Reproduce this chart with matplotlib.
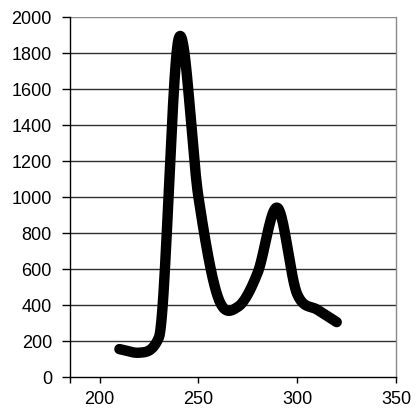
import matplotlib
matplotlib.use('Agg')

import matplotlib.pyplot as plt
import numpy as np

# valores
x_vals = [210, 220, 230, 240, 250, 260, 270, 280, 290, 300, 310, 320]
y_vals = [155, 135, 220, 1880, 1000, 440, 390, 580, 940, 460, 375, 305]

x_ticks = [200, 250, 300, 350]
y_ticks = list(range(0, 2001, 200))


def suavizar(xs, ys, n=40):
    # linha suavizada: tangentes catmull-rom, limitadas so onde ondularia
    xs = np.asarray(xs, float)
    ys = np.asarray(ys, float)
    h = np.diff(xs)
    d = np.diff(ys) / h
    m = np.empty_like(ys)
    m[1:-1] = (ys[2:] - ys[:-2]) / (xs[2:] - xs[:-2])
    m[0] = d[0]
    m[-1] = d[-1]
    for k in range(len(d)):
        if d[k] == 0:
            continue
        a = m[k] / d[k]
        b = m[k + 1] / d[k]
        s = a * a + b * b
        if a > 0 and b > 0 and s > 9:
            tau = 3 / np.sqrt(s)
            m[k] = tau * a * d[k]
            m[k + 1] = tau * b * d[k]
    ox, oy = [], []
    t = np.linspace(0, 1, n)
    h00 = 2 * t**3 - 3 * t**2 + 1
    h10 = t**3 - 2 * t**2 + t
    h01 = -2 * t**3 + 3 * t**2
    h11 = t**3 - t**2
    for i in range(len(xs) - 1):
        ox.extend(xs[i] + t * h[i])
        oy.extend(h00 * ys[i] + h10 * h[i] * m[i] + h01 * ys[i + 1] + h11 * h[i] * m[i + 1])
    return ox, oy


plt.rcParams['font.family'] = ['Liberation Sans', 'DejaVu Sans']

fig = plt.figure(figsize=(4.16, 4.16), dpi=100)
ax = fig.add_axes([70 / 416, 39 / 416, 326 / 416, 360 / 416])

for v in y_ticks[1:]:
    cor = '#8a8a8a' if v == 2000 else '#303030'
    ax.axhline(v, color=cor, lw=1.0, zorder=1)

sx, sy = suavizar(x_vals, y_vals)
ax.plot(sx, sy, color='black', lw=7.5, solid_capstyle='round', solid_joinstyle='round', zorder=3)

ax.set_xlim(185, 350)
ax.set_ylim(0, 2000)
ax.set_xticks(x_ticks)
ax.set_xticks([185], minor=True)
ax.set_yticks(y_ticks)

ax.spines['top'].set_visible(False)
ax.spines['right'].set_color('#8a8a8a')
ax.spines['left'].set_color('black')
ax.spines['bottom'].set_color('black')
for s in ax.spines.values():
    s.set_linewidth(1.0)

ax.tick_params(axis='y', direction='out', length=6, width=1, pad=7, labelsize=13, colors='black')
ax.tick_params(axis='x', which='both', direction='out', length=4, width=1, pad=6, labelsize=13, colors='black')
ax.tick_params(axis='x', which='minor', length=4)

fig.savefig('out.png', dpi=100)
